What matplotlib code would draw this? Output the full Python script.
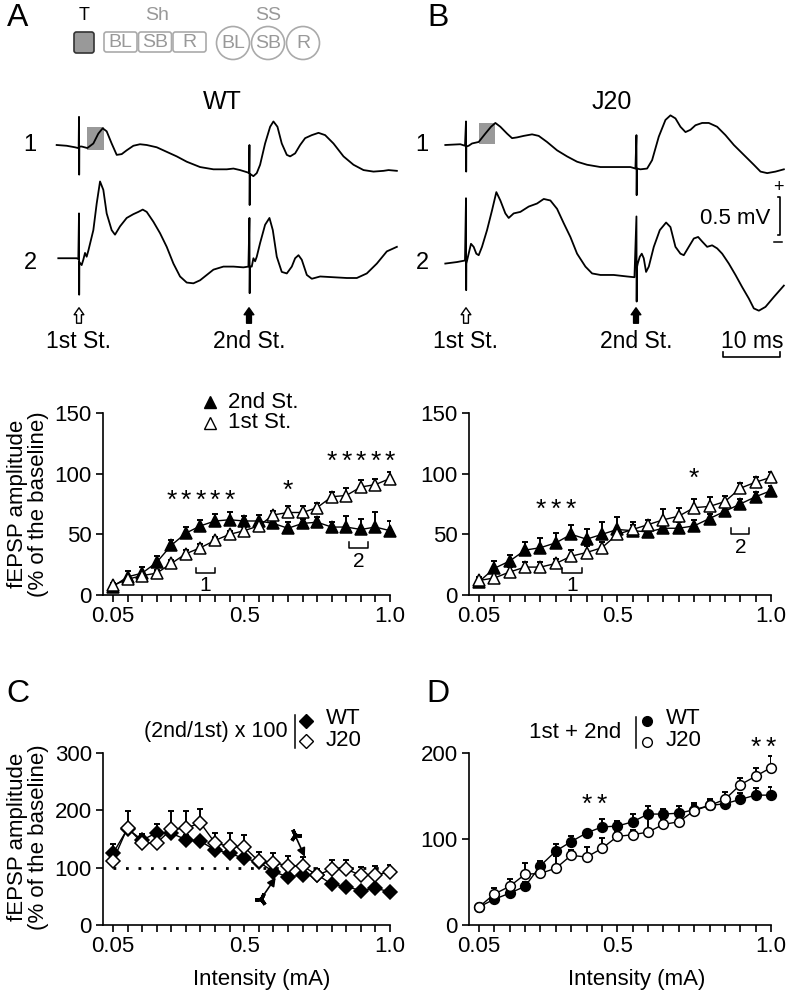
import numpy as np
import matplotlib
matplotlib.use('Agg')
import matplotlib.pyplot as plt
from matplotlib.patches import FancyBboxPatch, Circle, Rectangle

plt.rcParams['font.family'] = ['Liberation Sans', 'DejaVu Sans']

# ---------------- data ----------------
intensity = [0.05, 0.10, 0.15, 0.20, 0.25, 0.30, 0.35, 0.40, 0.45, 0.50,
             0.55, 0.60, 0.65, 0.70, 0.75, 0.80, 0.85, 0.90, 0.95, 1.00]
tick_labels = ['0.05', '', '', '', '', '', '', '', '', '0.5',
               '', '', '', '', '', '', '', '', '', '1.0']

# A: WT, % of baseline
wt_2nd = [7, 15, 18, 27, 41, 51, 57, 61, 62, 61, 61, 59, 55, 59, 60, 56, 56, 54, 56, 53]
wt_2nd_err = [3, 5, 5, 5, 4, 5, 5, 6, 6, 4, 5, 4, 5, 4, 4, 4, 9, 9, 12, 8]
wt_1st = [8, 13, 16, 18, 26, 34, 39, 45, 50, 53, 57, 66, 68, 68, 72, 81, 82, 89, 91, 96]
wt_1st_err = [2, 3, 3, 3, 3, 3, 3, 3, 3, 3, 3, 3, 5, 5, 4, 4, 6, 6, 5, 5]

# B: J20
j20_2nd = [11, 22, 28, 37, 39, 43, 50, 46, 50, 54, 53, 52, 55, 55, 57, 63, 69, 75, 81, 86]
j20_2nd_err = [3, 6, 5, 7, 8, 8, 8, 8, 10, 10, 5, 5, 5, 5, 5, 4, 4, 4, 4, 4]
j20_1st = [12, 14, 19, 23, 23, 26, 32, 35, 39, 50, 54, 58, 62, 65, 72, 73, 77, 88, 93, 97]
j20_1st_err = [3, 4, 4, 4, 4, 4, 5, 5, 5, 5, 6, 4, 9, 7, 7, 8, 5, 4, 4, 4]

# C: ratio (2nd/1st) x 100
ratio_wt = [125, 168, 148, 161, 160, 149, 146, 131, 125, 116, 110, 93, 84, 87, 88, 71, 67, 60, 64, 58]
ratio_wt_err = [17, 8, 10, 16, 10, 8, 8, 8, 8, 8, 8, 8, 6, 6, 6, 6, 6, 6, 6, 6]
ratio_j20 = [112, 170, 143, 143, 167, 169, 178, 143, 137, 136, 111, 109, 103, 103, 87, 97, 97, 87, 87, 93]
ratio_j20_err = [10, 29, 15, 12, 31, 29, 24, 17, 23, 21, 17, 16, 17, 15, 10, 16, 16, 15, 16, 12]

# D: sum 1st + 2nd
sum_wt = [21, 30, 37, 45, 69, 86, 97, 107, 114, 115, 120, 129, 129, 130, 134, 139, 141, 146, 151, 151]
sum_wt_err = [3, 5, 5, 5, 5, 8, 6, 4, 9, 6, 9, 9, 6, 8, 8, 7, 6, 7, 8, 10]
sum_j20 = [21, 36, 45, 59, 60, 66, 81, 79, 89, 103, 105, 108, 117, 120, 133, 139, 146, 163, 173, 183]
sum_j20_err = [3, 7, 9, 13, 5, 14, 6, 12, 12, 6, 6, 17, 6, 6, 6, 6, 9, 8, 10, 13]

# example traces (time in ms from 1st stimulus, voltage in mV from baseline)
wt1_t = [-3.94, -2.18, -0.71, -0.18, -0.06, 0.0, 0.03, 0.06, 0.47, 1.47, 2.53, 3.41, 4.18, 4.88,
         5.76, 6.65, 7.53, 8.41, 9.59, 10.76, 11.94, 13.71, 15.47, 17.24, 19.0, 21.35, 23.71,
         26.06, 27.24, 28.41, 29.71, 30.0, 30.06, 30.1, 30.15, 30.76, 31.35, 31.94, 32.82, 33.71,
         34.29, 35.0, 35.76, 36.65, 37.24, 38.12, 39.0, 39.88, 41.06, 42.24, 43.41, 44.88, 46.65,
         48.41, 50.18, 51.94, 53.71, 54.59, 56.06]
wt1_v = [0, -0.01, -0.03, -0.04, -0.04, 0.37, -0.39, -0.02, -0.02, -0.04, 0.02, 0.15, 0.22, 0.18,
         0.02, -0.13, -0.12, -0.07, -0.01, 0.01, 0, -0.03, -0.09, -0.15, -0.22, -0.29, -0.32,
         -0.32, -0.31, -0.33, -0.36, -0.37, 0.0, -0.79, -0.38, -0.41, -0.37, -0.26, 0.02, 0.24,
         0.31, 0.24, 0.02, -0.13, -0.15, -0.11, 0, 0.09, 0.13, 0.16, 0.13, 0.02, -0.15,
         -0.26, -0.33, -0.35, -0.34, -0.33, -0.34]
wt2_t = [-3.65, -0.41, -0.12, 0.0, 0.03, 0.06, 0.47, 0.76, 1.06, 1.35, 1.65, 2.53, 3.12, 3.71,
         4.29, 4.88, 5.76, 6.35, 7.24, 8.41, 9.59, 10.47, 11.24, 11.94, 13.12, 14.29, 15.47,
         16.65, 17.82, 19.0, 20.18, 21.35, 22.53, 23.71, 25.47, 27.24, 29.0, 29.88, 30.06, 30.1,
         30.15, 30.47, 30.76, 31.06, 31.35, 31.94, 32.82, 33.59, 34.18, 34.88, 35.76, 36.65,
         37.53, 38.12, 38.71, 39.29, 40.18, 41.06, 42.53, 44.88, 47.24, 49.0, 50.76, 52.53,
         54.29, 56.06]
wt2_v = [0, 0, -0.01, 0.59, -0.48, -0.05, -0.09, -0.02, 0.07, 0.02, 0.10, 0.37, 0.72, 1.01,
         0.90, 0.59, 0.37, 0.31, 0.42, 0.53, 0.58, 0.61, 0.64, 0.61, 0.48, 0.33, 0.15,
         -0.07, -0.24, -0.32, -0.33, -0.29, -0.22, -0.15, -0.11, -0.11, -0.12, -0.11, 0.53, -0.46,
         -0.11, -0.11, 0, -0.04, 0.02, 0.20, 0.44, 0.53, 0.37, 0.02, -0.18, -0.20,
         -0.11, 0, 0.04, -0.02, -0.22, -0.27, -0.24, -0.25, -0.26, -0.26, -0.20, -0.07,
         0.09, 0.15]
j1_t = [-3.65, -1.0, -0.18, 0.0, 0.03, 0.06, 0.47, 1.06, 2.24, 3.41, 4.41, 5.18, 6.06, 7.24,
        8.12, 9.0, 10.18, 11.65, 12.82, 14.29, 16.06, 17.82, 19.59, 21.35, 23.71, 26.65, 29.0,
        29.88, 30.06, 30.1, 30.15, 30.76, 31.94, 32.82, 34.0, 35.18, 36.06, 36.94, 37.82, 38.71,
        39.59, 40.47, 41.65, 42.82, 44.29, 45.76, 47.24, 49.0, 50.76, 51.94, 53.12, 54.59, 56.06]
j1_v = [0, 0.01, -0.01, 0.31, -0.35, -0.02, -0.01, 0.02, 0.04, 0.15, 0.24, 0.29, 0.24, 0.15,
        0.09, 0.10, 0.12, 0.14, 0.12, 0.04, -0.07, -0.15, -0.22, -0.26, -0.29, -0.29, -0.29,
        -0.31, 0.13, -0.66, -0.31, -0.32, -0.31, -0.20, 0.11, 0.33, 0.39, 0.35, 0.24, 0.17,
        0.20, 0.26, 0.29, 0.29, 0.24, 0.13, 0, -0.13, -0.26, -0.35, -0.37, -0.35, -0.32]
j2_t = [-3.65, -1.59, -0.18, 0.0, 0.03, 0.06, 0.47, 0.88, 1.35, 1.82, 2.24, 2.82, 3.71, 4.59,
        5.35, 6.06, 6.94, 7.53, 8.41, 9.59, 11.06, 12.53, 13.71, 14.88, 16.06, 17.24, 18.41,
        19.59, 21.06, 22.24, 23.71, 26.06, 28.41, 29.71, 30.06, 30.1, 30.15, 30.29, 30.65, 31.0,
        31.35, 31.76, 32.24, 33.12, 34.18, 35.29, 36.06, 36.94, 37.82, 38.41, 39.29, 40.18,
        40.94, 41.65, 42.53, 43.41, 44.29, 45.18, 46.35, 47.53, 48.71, 49.88, 50.76, 51.65,
        52.82, 54.29, 56.06]
j2_v = [0, 0.02, 0.04, 0.86, -0.35, 0.0, 0.13, 0.26, 0.22, 0.13, 0.11, 0.22, 0.44, 0.70,
        0.94, 0.83, 0.66, 0.60, 0.66, 0.68, 0.75, 0.79, 0.85, 0.83, 0.72, 0.53, 0.35,
        0.13, -0.04, -0.13, -0.15, -0.15, -0.17, -0.18, 0.62, -0.50, -0.05, 0, 0.09, 0.13,
        0.07, -0.11, -0.04, 0.22, 0.44, 0.54, 0.48, 0.22, 0.13, 0.11, 0.22, 0.33,
        0.35, 0.29, 0.22, 0.24, 0.20, 0.13, 0, -0.15, -0.31, -0.46, -0.59, -0.62,
        -0.57, -0.44, -0.29]

x = np.array(intensity)

fig = plt.figure(figsize=(7.88, 9.99), dpi=100)
W, H = 788, 999


def px_axes(left, top, right, bottom):
    return fig.add_axes([left / W, 1 - bottom / H, (right - left) / W, (bottom - top) / H])


# ---------------- traces ----------------
PX_MS, PX_MV = 5.67, 76.0


def trace_axes(left, right, stim_px, base_px, top=60, bottom=370):
    ax = px_axes(left, top, right, bottom)
    ax.set_xlim((left - stim_px) / PX_MS, (right - stim_px) / PX_MS)
    ax.set_ylim((base_px - bottom) / PX_MV, (base_px - top) / PX_MV)
    ax.axis('off')
    return ax


ax_wt = trace_axes(50, 400, 79, 145)
ax_wt.plot(wt1_t, wt1_v, color='k', lw=1.3)
ax_wt.plot(wt2_t, np.array(wt2_v) - 1.49, color='k', lw=1.3)
ax_wt.add_patch(Rectangle((1.47, -0.07), 2.94, 0.31, fc='#999999', ec='none', zorder=0))

ax_j = trace_axes(440, 788, 466, 145)
ax_j.plot(j1_t, j1_v, color='k', lw=1.3)
ax_j.plot(j2_t, np.array(j2_v) - 1.56, color='k', lw=1.3)
ax_j.add_patch(Rectangle((2.24, 0.01), 2.82, 0.28, fc='#999999', ec='none', zorder=0))
# scale bars
ax_j.plot([55.0, 55.4, 55.4, 55.0], [-0.68, -0.68, -1.18, -1.18], color='k', lw=1.2)
ax_j.plot([45.4, 45.4, 55.4, 55.4], [-2.72, -2.79, -2.79, -2.72], color='k', lw=1.2)


# ---------------- summary plots ----------------
def style_axes(ax, ymax, yticks, x_left):
    ax.set_xlim(x_left, 1.0)
    ax.set_ylim(0, ymax)
    ax.set_xticks(x)
    ax.set_xticklabels(tick_labels)
    ax.set_yticks(yticks)
    for s in ['top', 'right']:
        ax.spines[s].set_visible(False)
    for s in ['left', 'bottom']:
        ax.spines[s].set_linewidth(1.2)
    ax.tick_params(direction='out', length=5, width=1.2, labelsize=16, pad=3)
    ax.patch.set_alpha(0)


def series(ax, y, err, marker, fc, ms):
    ax.errorbar(x, y, yerr=[np.zeros(len(err)), err], fmt='none', ecolor='k',
                elinewidth=1.4, capsize=2.5, capthick=1.4, zorder=2)
    ax.plot(x, y, color='k', lw=1, marker=marker, mfc=fc, mec='k', ms=ms, mew=1.1, zorder=3,
            clip_on=False)


def stars(ax, idx, yv, fs=19):
    for i in idx:
        ax.text(x[i], yv, '*', ha='center', va='center', fontsize=fs, clip_on=False)


def bracket(ax, x0, x1, top, bot, label, ly):
    ax.plot([x0, x0, x1, x1], [top, bot, bot, top], color='k', lw=1.1)
    ax.text((x0 + x1) / 2, ly, label, ha='center', va='center', fontsize=15)


axA = px_axes(103, 413, 390, 595)
style_axes(axA, 150, [0, 50, 100, 150], 0.0157)
series(axA, wt_2nd, wt_2nd_err, '^', 'k', 8.5)
series(axA, wt_1st, wt_1st_err, '^', 'white', 8.5)
stars(axA, [4, 5, 6, 7, 8], 78)
stars(axA, [12], 86)
stars(axA, [15, 16, 17, 18, 19], 110)
bracket(axA, 0.335, 0.40, 22, 18, '1', 8)
bracket(axA, 0.86, 0.925, 44, 39, '2', 28)

axB = px_axes(469, 413, 771, 595)
style_axes(axB, 150, [0, 50, 100, 150], 0.0175)
series(axB, j20_2nd, j20_2nd_err, '^', 'k', 8.5)
series(axB, j20_1st, j20_1st_err, '^', 'white', 8.5)
stars(axB, [4, 5, 6], 70)
stars(axB, [14], 96)
bracket(axB, 0.32, 0.385, 22, 18, '1', 8)
bracket(axB, 0.87, 0.93, 55, 50, '2', 39)

axC = px_axes(103, 753, 390, 925)
style_axes(axC, 300, [0, 100, 200, 300], 0.0157)
axC.plot([0.05, 1.0], [100, 100], color='k', lw=2, linestyle=(0, (1, 3.5)), zorder=1)
series(axC, ratio_wt, ratio_wt_err, 'D', 'k', 7.5)
series(axC, ratio_j20, ratio_j20_err, 'D', 'white', 7.5)
for tail, tip, ang in [((0.674, 157), (0.708, 119), 25), ((0.557, 45), (0.608, 83), 215)]:
    axC.annotate('', xy=tip, xytext=tail,
                 arrowprops=dict(arrowstyle='-|>,head_length=0.5,head_width=0.25',
                                 color='k', lw=1.2, shrinkA=0, shrinkB=0))
    axC.plot(*tail, marker=(3, 2, ang), color='k', ms=9, mew=2.5)

axD = px_axes(469, 753, 771, 925)
style_axes(axD, 200, [0, 100, 200], 0.0175)
series(axD, sum_wt, sum_wt_err, 'o', 'k', 7)
series(axD, sum_j20, sum_j20_err, 'o', 'white', 7)
stars(axD, [7, 8], 140)
stars(axD, [18, 19], 206)

# ---------------- overlay (pixel coordinates) ----------------
ov = fig.add_axes([0, 0, 1, 1], zorder=10)
ov.set_xlim(0, W)
ov.set_ylim(H, 0)
ov.axis('off')

for lbl, px, py in [('A', 18, 18), ('B', 438, 18), ('C', 18, 694), ('D', 438, 694)]:
    ov.text(px, py, lbl, fontsize=23, ha='center', va='center')

# stimulation schematic
gray = '#999999'
ov.text(84, 15, 'T', fontsize=13, ha='center', va='center')
ov.add_patch(FancyBboxPatch((74, 32), 20, 21, boxstyle='round,pad=0,rounding_size=2.5',
                            fc='#999999', ec='#333333', lw=1.2))
ov.text(157, 15, 'Sh', fontsize=14, ha='center', va='center', color=gray)
for i, t in enumerate(['BL', 'SB', 'R']):
    x0 = 104 + 34.5 * i
    ov.add_patch(FancyBboxPatch((x0, 32), 33, 20, boxstyle='round,pad=0,rounding_size=2.5',
                                fc='none', ec='#aaaaaa', lw=1.2))
    ov.text(x0 + 16.5, 42.5, t, fontsize=14, ha='center', va='center', color=gray)
ov.text(268, 15, 'SS', fontsize=14, ha='center', va='center', color=gray)
for i, t in enumerate(['BL', 'SB', 'R']):
    cx = 233 + 35 * i
    ov.add_patch(Circle((cx, 43), 16.5, fc='none', ec='#aaaaaa', lw=1.2))
    ov.text(cx, 43.5, t, fontsize=14, ha='center', va='center', color=gray)

# trace labels
ov.text(222, 102, 'WT', fontsize=18, ha='center', va='center')
ov.text(612, 102, 'J20', fontsize=18, ha='center', va='center')
for px in [30, 422]:
    ov.text(px, 145, '1', fontsize=17, ha='center', va='center')
    ov.text(px, 263, '2', fontsize=17, ha='center', va='center')

for sx, fc in [(79, 'white'), (249, 'k'), (466, 'white'), (636, 'k')]:
    ov.annotate('', xy=(sx, 305), xytext=(sx, 326),
                arrowprops=dict(arrowstyle='simple,head_length=0.5,head_width=0.7,tail_width=0.35',
                                fc=fc, ec='k', lw=1))
for sx, t in [(79, '1st St.'), (249, '2nd St.'), (466, '1st St.'), (636, '2nd St.')]:
    ov.text(sx, 341, t, fontsize=16.5, ha='center', va='center')
ov.text(752, 341, '10 ms', fontsize=16.5, ha='center', va='center')
ov.text(770, 218, '0.5 mV', fontsize=16, ha='right', va='center')
ov.text(778, 188, '+', fontsize=13, ha='center', va='center')
ov.plot([774, 782], [242, 242], color='k', lw=1.1)

# y labels / x labels
ov.text(28, 504, 'fEPSP amplitude\n(% of the baseline)', rotation=90, fontsize=16,
        ha='center', va='center', linespacing=1.0)
ov.text(28, 837, 'fEPSP amplitude\n(% of the baseline)', rotation=90, fontsize=16,
        ha='center', va='center', linespacing=1.0)
ov.text(262, 980, 'Intensity (mA)', fontsize=16, ha='center', va='center')
ov.text(637, 980, 'Intensity (mA)', fontsize=16, ha='center', va='center')

# legends
ov.plot(210, 402, marker='^', color='k', ms=9)
ov.text(228, 402, '2nd St.', fontsize=16, va='center')
ov.plot(210, 423, marker='^', mfc='white', mec='k', ms=9)
ov.text(228, 423, '1st St.', fontsize=16, va='center')

ov.text(288, 731, '(2nd/1st) x 100', fontsize=15.5, ha='right', va='center')
ov.plot([295, 295], [715, 748], color='k', lw=1.1)
ov.plot(306, 721, marker='D', color='k', ms=7)
ov.text(326, 719, 'WT', fontsize=16, va='center')
ov.plot(306, 741, marker='D', mfc='white', mec='k', ms=7)
ov.text(326, 740, 'J20', fontsize=16, va='center')

ov.text(621, 733, '1st + 2nd', fontsize=16, ha='right', va='center')
ov.plot([636, 636], [717, 748], color='k', lw=1.1)
ov.plot(647, 721, marker='o', color='k', ms=7)
ov.text(666, 719, 'WT', fontsize=16, va='center')
ov.plot(647, 742, marker='o', mfc='white', mec='k', ms=7)
ov.text(666, 740, 'J20', fontsize=16, va='center')

fig.savefig('out.png', dpi=100)
